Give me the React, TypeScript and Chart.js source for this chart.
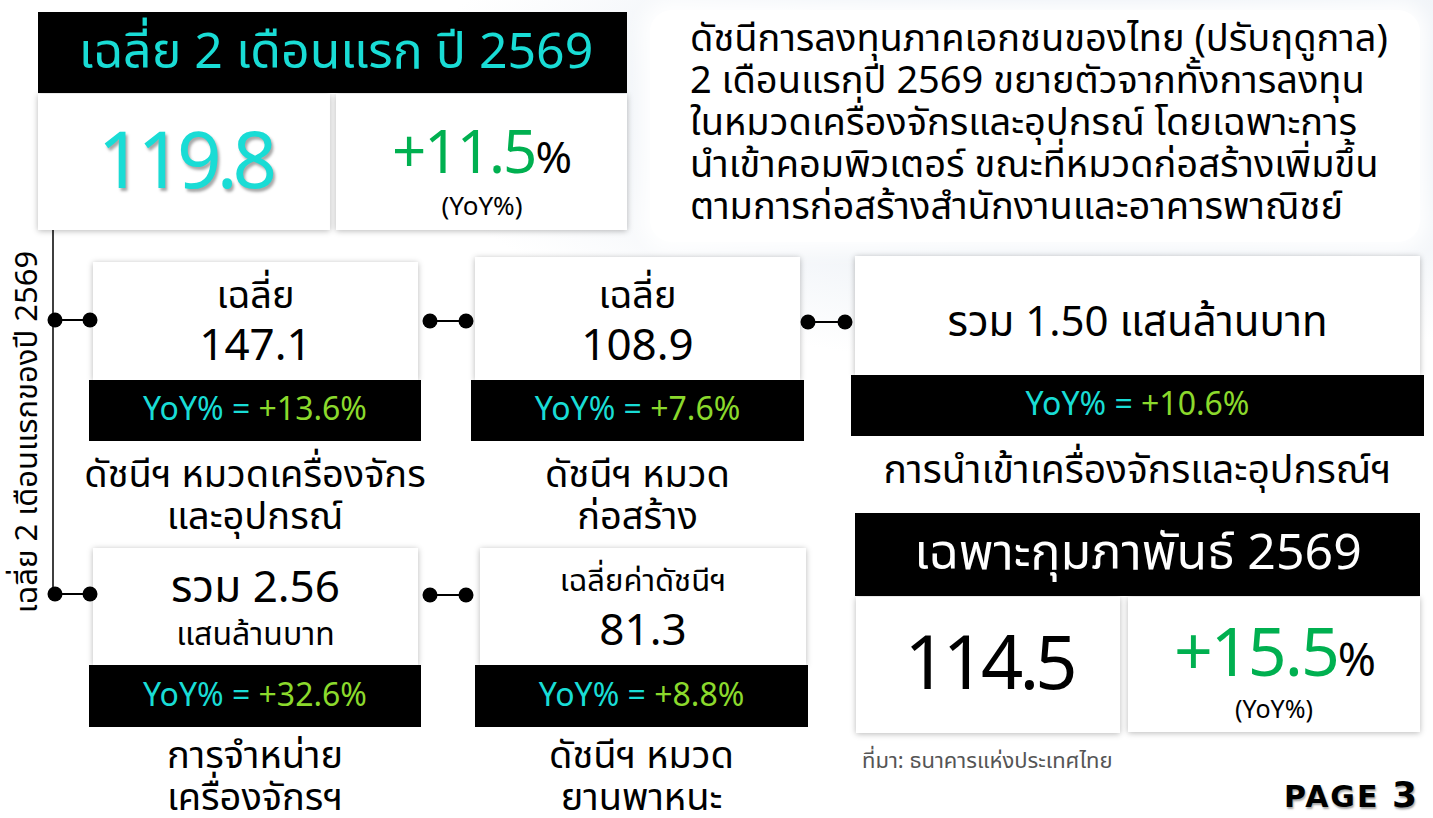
import React, { useEffect, useRef } from "react";
import { Chart, registerables } from "chart.js";

Chart.register(...registerables);

// ---------- data ----------
const avgTitle = "เฉลี่ย 2 เดือนแรก ปี 2569";
const avgIndex = "119.8";
const avgYoY = "+11.5";
const febTitle = "เฉพาะกุมภาพันธ์ 2569";
const febIndex = "114.5";
const febYoY = "+15.5";
const summaryLines = [
  "ดัชนีการลงทุนภาคเอกชนของไทย (ปรับฤดูกาล)",
  "2 เดือนแรกปี 2569 ขยายตัวจากทั้งการลงทุน",
  "ในหมวดเครื่องจักรและอุปกรณ์ โดยเฉพาะการ",
  "นำเข้าคอมพิวเตอร์ ขณะที่หมวดก่อสร้างเพิ่มขึ้น",
  "ตามการก่อสร้างสำนักงานและอาคารพาณิชย์",
];
const sideLabel = "เฉลี่ย 2 เดือนแรกของปี 2569";
const cardTop = ["เฉลี่ย", "เฉลี่ย", "", "", "เฉลี่ยค่าดัชนีฯ"];
const cardValues = ["147.1", "108.9", "รวม 1.50 แสนล้านบาท", "รวม 2.56", "81.3"];
const cardUnit = ["", "", "", "แสนล้านบาท", ""];
const cardYoY = ["+13.6%", "+7.6%", "+10.6%", "+32.6%", "+8.8%"];
const cardNames = [
  ["ดัชนีฯ หมวดเครื่องจักร", "และอุปกรณ์"],
  ["ดัชนีฯ หมวด", "ก่อสร้าง"],
  ["การนำเข้าเครื่องจักรและอุปกรณ์ฯ"],
  ["การจำหน่าย", "เครื่องจักรฯ"],
  ["ดัชนีฯ หมวด", "ยานพาหนะ"],
];
const sourceText = "ที่มา: ธนาคารแห่งประเทศไทย";
const pageText = "PAGE";
const pageNo = "3";

// ---------- layout (positions only) ----------
const W = 1433;
const H = 818;
const cardBoxes = [
  { x: 93, w: 325, y: 262, h: 118, barX: 89, barW: 332, barY: 380, barH: 61, nameY: 476 },
  { x: 475, w: 325, y: 257, h: 123, barX: 471, barW: 333, barY: 380, barH: 61, nameY: 476 },
  { x: 855, w: 565, y: 256, h: 119, barX: 851, barW: 573, barY: 375, barH: 61, nameY: 472 },
  { x: 93, w: 325, y: 548, h: 117, barX: 89, barW: 332, barY: 665, barH: 62, nameY: 757 },
  { x: 480, w: 326, y: 548, h: 117, barX: 475, barW: 333, barY: 665, barH: 62, nameY: 757 },
];
const connectors = [
  [{ x: 55, y: 320 }, { x: 90, y: 320 }],
  [{ x: 55, y: 594 }, { x: 90, y: 594 }],
  [{ x: 430, y: 321 }, { x: 466, y: 321 }],
  [{ x: 808, y: 322 }, { x: 845, y: 322 }],
  [{ x: 430, y: 595 }, { x: 466, y: 595 }],
];
const spine = [{ x: 53, y: 230 }, { x: 53, y: 594 }];

const FONT = "'Noto Sans Thai', 'Noto Sans', 'DejaVu Sans', sans-serif";
const CYAN = "#19dcd5";
const LIME = "#8bd92c";
const GREEN = "#00b050";

const abs = (x: number, y: number, w: number, h: number): React.CSSProperties => ({
  position: "absolute",
  left: x,
  top: y,
  width: w,
  height: h,
});

function T(props: {
  cx: number;
  cy: number;
  w: number;
  size: number;
  color?: string;
  weight?: number;
  children: React.ReactNode;
  align?: "center" | "left" | "right";
}) {
  const lh = props.size * 1.4;
  return (
    <div
      style={{
        position: "absolute",
        left: props.cx - props.w / 2,
        top: props.cy - lh / 2,
        width: props.w,
        height: lh,
        lineHeight: lh + "px",
        fontSize: props.size,
        fontFamily: FONT,
        color: props.color || "#000",
        fontWeight: props.weight || 400,
        textAlign: props.align || "center",
        whiteSpace: "nowrap",
      }}
    >
      {props.children}
    </div>
  );
}

const shadow = "0 1px 6px rgba(0,0,0,0.28)";

export default function App() {
  const canvasRef = useRef<HTMLCanvasElement | null>(null);

  useEffect(() => {
    document.body.style.margin = "0";
    const ctx = canvasRef.current;
    if (!ctx) return;
    const datasets: any[] = connectors.map((c) => ({
      data: c,
      borderColor: "#000",
      borderWidth: 2,
      pointRadius: 7.5,
      pointBackgroundColor: "#000",
      pointBorderWidth: 0,
      showLine: true,
    }));
    datasets.push({
      data: spine,
      borderColor: "#000",
      borderWidth: 1.5,
      pointRadius: 0,
      showLine: true,
    });
    const chart = new Chart(ctx, {
      type: "scatter",
      data: { datasets },
      options: {
        animation: false,
        responsive: false,
        events: [],
        layout: { padding: 0, autoPadding: false },
        plugins: { legend: { display: false }, tooltip: { enabled: false } },
        scales: {
          x: { type: "linear", min: 0, max: W, display: false },
          y: { type: "linear", min: 0, max: H, reverse: true, display: false },
        },
      },
    });
    return () => chart.destroy();
  }, []);

  return (
    <div
      style={{
        position: "relative",
        width: W,
        height: H,
        overflow: "hidden",
        background:
          "radial-gradient(ellipse 700px 260px at 1100px 110px, #dfe7f1 0%, #eef2f7 55%, #ffffff 100%)",
        fontFamily: FONT,
      }}
    >
      {/* summary panel */}
      <div
        style={{
          ...abs(650, 10, 770, 232),
          background: "#fff",
          borderRadius: 22,
          boxShadow: "0 0 18px 10px rgba(255,255,255,0.9)",
        }}
      />
      {summaryLines.map((l, i) => (
        <T key={i} cx={1040} cy={40 + i * 41.8} w={700} size={38} align="left">
          {l}
        </T>
      ))}

      {/* top-left summary */}
      <div style={{ ...abs(38, 12, 589, 81), background: "#000" }} />
      <T cx={336} cy={53} w={589} size={50} color={CYAN}>
        {avgTitle}
      </T>
      <div style={{ ...abs(38, 94, 292, 136), background: "#fff", boxShadow: shadow }} />
      <div style={{ ...abs(336, 94, 291, 136), background: "#fff", boxShadow: shadow }} />
      <T cx={185} cy={165} w={292} size={78} color={CYAN}>
        <span style={{ textShadow: "2px 3px 3px rgba(0,0,0,0.35)", letterSpacing: -5 }}>{avgIndex}</span>
      </T>
      <T cx={482} cy={155} w={291} size={60} color={GREEN}>
        <span style={{ letterSpacing: -2 }}>{avgYoY}</span>
        <span style={{ color: "#000", fontSize: 44 }}>%</span>
      </T>
      <T cx={482} cy={207} w={291} size={26}>
        (YoY%)
      </T>

      {/* side label */}
      <div
        style={{
          position: "absolute",
          left: 28 - 200,
          top: 432 - 20,
          width: 400,
          height: 40,
          lineHeight: "40px",
          fontSize: 31,
          textAlign: "center",
          whiteSpace: "nowrap",
          transform: "rotate(-90deg)",
        }}
      >
        {sideLabel}
      </div>

      {/* cards */}
      {cardBoxes.map((b, i) => {
        const cx = b.x + b.w / 2;
        const bcx = b.barX + b.barW / 2;
        return (
          <React.Fragment key={i}>
            <div style={{ ...abs(b.x, b.y, b.w, b.h), background: "#fff", boxShadow: shadow }} />
            <div style={{ ...abs(b.barX, b.barY, b.barW, b.barH), background: "#000" }} />
            {i === 2 ? (
              <T cx={cx} cy={323} w={b.w} size={42}>
                {cardValues[i]}
              </T>
            ) : i === 3 ? (
              <>
                <T cx={cx} cy={589} w={b.w} size={44}>
                  {cardValues[i]}
                </T>
                <T cx={cx} cy={635} w={b.w} size={32}>
                  {cardUnit[i]}
                </T>
              </>
            ) : i === 4 ? (
              <>
                <T cx={cx} cy={582} w={b.w} size={31}>
                  {cardTop[i]}
                </T>
                <T cx={cx} cy={632} w={b.w} size={44}>
                  {cardValues[i]}
                </T>
              </>
            ) : (
              <>
                <T cx={cx} cy={297} w={b.w} size={38}>
                  {cardTop[i]}
                </T>
                <T cx={cx} cy={347} w={b.w} size={44}>
                  {cardValues[i]}
                </T>
              </>
            )}
            <T cx={bcx} cy={b.barY + b.barH / 2} w={b.barW} size={32}>
              <span style={{ color: CYAN }}>YoY% = </span>
              <span style={{ color: LIME }}>{cardYoY[i]}</span>
            </T>
            {cardNames[i].map((n, j) => (
              <T key={j} cx={bcx} cy={b.nameY + j * 42} w={b.barW + 120} size={i === 2 ? 39 : 38}>
                {n}
              </T>
            ))}
          </React.Fragment>
        );
      })}

      {/* February box */}
      <div style={{ ...abs(855, 513, 565, 83), background: "#000" }} />
      <T cx={1138} cy={554} w={565} size={50} color="#fff">
        {febTitle}
      </T>
      <div style={{ ...abs(856, 597, 264, 136), background: "#fff", boxShadow: shadow }} />
      <div style={{ ...abs(1128, 597, 292, 135), background: "#fff", boxShadow: shadow }} />
      <T cx={989} cy={667} w={264} size={74}>
        <span style={{ letterSpacing: -4 }}>{febIndex}</span>
      </T>
      <T cx={1275} cy={656} w={292} size={68} color={GREEN}>
        <span style={{ letterSpacing: -2 }}>{febYoY}</span>
        <span style={{ color: "#000", fontSize: 46 }}>%</span>
      </T>
      <T cx={1274} cy={710} w={292} size={25}>
        (YoY%)
      </T>

      <T cx={862 + 150} cy={762} w={300} size={22} color="#555" align="left">
        {sourceText}
      </T>
      <div
        style={{
          position: "absolute",
          right: 14,
          top: 772,
          height: 46,
          lineHeight: "46px",
          fontFamily: "'DejaVu Sans', sans-serif",
          fontWeight: 700,
          fontSize: 30,
          letterSpacing: 2,
          textShadow: "1px 2px 2px rgba(0,0,0,0.35)",
        }}
      >
        {pageText} <span style={{ fontSize: 36 }}>{pageNo}</span>
      </div>

      <canvas
        ref={canvasRef}
        width={W}
        height={H}
        style={{ position: "absolute", left: 0, top: 0, width: W, height: H, pointerEvents: "none" }}
      />
    </div>
  );
}
